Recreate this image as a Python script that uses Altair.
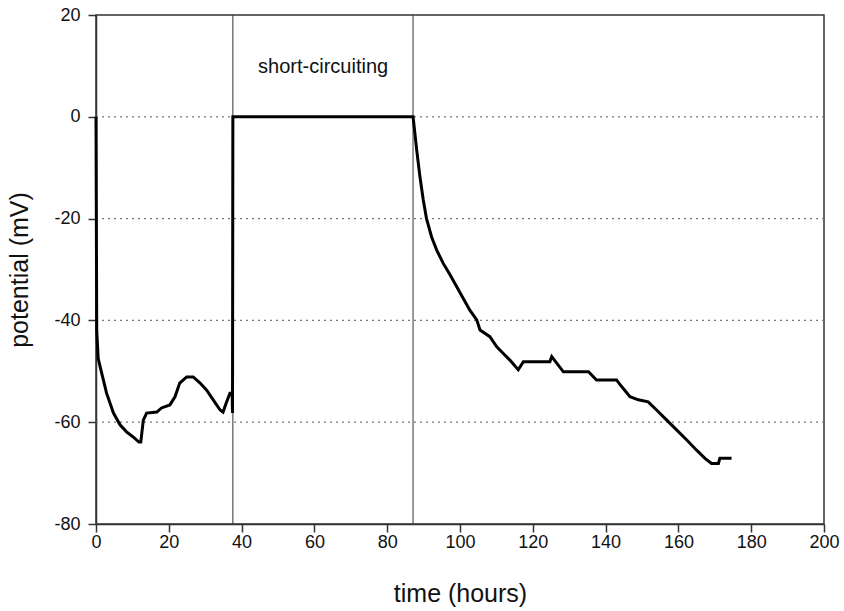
import altair as alt
import pandas as pd

# time (hours) and potential (mV)
time_h = [0, 0.2, 0.6, 1.1, 2.9, 4.8, 6.6, 8.4, 10.2, 11.8, 12.3, 13.0, 13.9, 16.7, 18.0,
          20.3, 21.7, 23.0, 24.9, 26.7, 28.6, 30.4, 32.2, 34.1, 34.9, 35.9, 36.8, 37.4,
          37.5, 37.6, 87.1, 87.6, 88.1, 89.0, 89.9, 90.8, 92.2, 93.6, 95.4, 97.3, 99.1,
          100.9, 102.7, 104.6, 105.5, 108.2, 110.1, 111.9, 113.7, 116.0, 117.4, 124.7,
          125.2, 128.4, 135.3, 137.5, 143.0, 144.4, 146.7, 149.0, 151.7, 154.0, 156.8,
          159.5, 162.3, 165.0, 167.3, 169.1, 171.0, 171.4, 174.6]
potential_mv = [0, -42, -47.5, -49, -54.3, -58.2, -60.5, -61.9, -62.9, -63.9, -63.9, -59.6,
                -58.2, -58, -57.2, -56.6, -55, -52.3, -51.1, -51.1, -52.3, -53.7, -55.6,
                -57.6, -58, -56, -54.3, -54.3, -58.2, 0, 0, -3.2, -6.5, -11.8, -16.3, -20,
                -23.6, -26.2, -28.8, -31.1, -33.4, -35.7, -38, -39.9, -41.9, -43.2, -45.2,
                -46.5, -47.8, -49.7, -48.1, -48.1, -47.1, -50.1, -50.1, -51.7, -51.7, -53,
                -55, -55.6, -56, -57.6, -59.6, -61.5, -63.5, -65.5, -67.1, -68.1, -68.1,
                -67.1, -67.1]
marker_times = [37.6, 87.1]
grid_levels = [0, -20, -40, -60]
x_ticks = [0, 20, 40, 60, 80, 100, 120, 140, 160, 180, 200]
y_ticks = [-80, -60, -40, -20, 0, 20]
annotation = ["short-circuiting"]
annotation_x = [62.4]
annotation_y = [9.8]

df = pd.DataFrame({"t": time_h, "v": potential_mv, "o": list(range(len(time_h)))})
df_mark = pd.DataFrame({"t": marker_times})
df_grid = pd.DataFrame({"v": grid_levels})
df_text = pd.DataFrame({"label": annotation, "t": annotation_x, "v": annotation_y})

FONT = "Liberation Sans"
xs = alt.Scale(domain=[0, 200], nice=False, zero=False)
ys = alt.Scale(domain=[-80, 20], nice=False, zero=False)

grid = alt.Chart(df_grid).mark_rule(color="#777777", strokeDash=[2, 4], strokeWidth=1.2).encode(
    y=alt.Y("v:Q", scale=ys),
    x=alt.value(0), x2=alt.value(728),
)

markers = alt.Chart(df_mark).mark_rule(color="#333333", strokeWidth=1).encode(
    x=alt.X("t:Q", scale=xs),
    y=alt.value(0), y2=alt.value(509),
)

line = alt.Chart(df).mark_line(color="black", strokeWidth=3, strokeJoin="miter").encode(
    x=alt.X("t:Q", scale=xs,
            axis=alt.Axis(title="time (hours)", values=x_ticks, grid=False,
                          labelExpr="toString(datum.value)")),
    y=alt.Y("v:Q", scale=ys,
            axis=alt.Axis(title="potential (mV)", values=y_ticks, grid=False,
                          labelExpr="toString(datum.value)")),
    order="o:Q",
)

text = alt.Chart(df_text).mark_text(font=FONT, fontSize=20, color="#111111").encode(
    x=alt.X("t:Q", scale=xs), y=alt.Y("v:Q", scale=ys), text="label:N"
)

chart = alt.layer(grid, markers, line, text).properties(
    width=728, height=509,
    autosize=alt.AutoSizeParams(type="none"),
    padding={"left": 96, "top": 15, "right": 20, "bottom": 87},
).configure_view(
    stroke="#333333", strokeWidth=1.5
).configure_axis(
    labelFont=FONT, titleFont=FONT, labelFontSize=18, titleFontSize=25,
    labelColor="#111111", titleColor="#111111", titleFontWeight="normal",
    domainColor="#333333", domainWidth=1.5, tickColor="#333333", tickWidth=1.5,
    tickSize=8, labelFlush=False, labelOverlap=False,
).configure_axisX(
    titlePadding=30, labelPadding=1
).configure_axisY(
    titlePadding=21, labelPadding=8
)

chart.save("out.html", embed_options={"renderer": "svg", "actions": False})
